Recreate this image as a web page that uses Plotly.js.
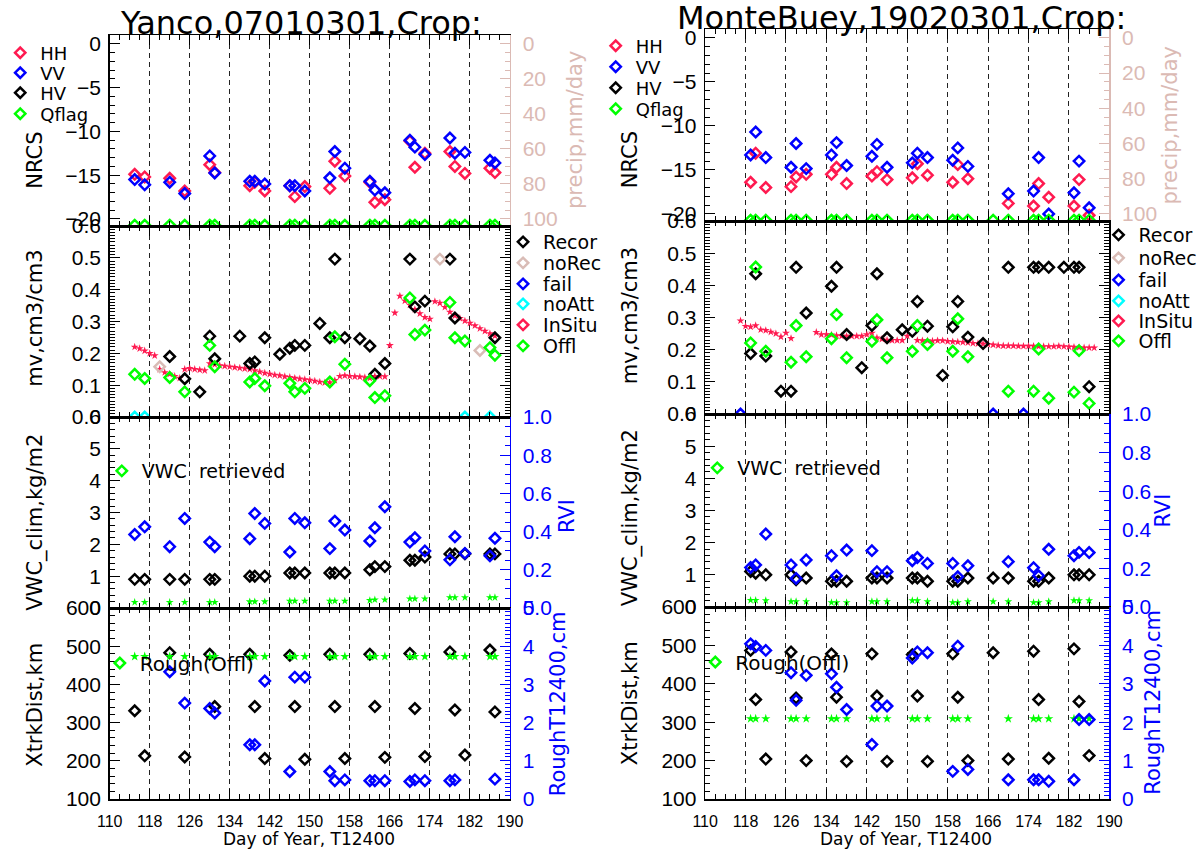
<!DOCTYPE html>
<html><head><meta charset="utf-8">
<script src="https://cdn.plot.ly/plotly-3.0.1.min.js"></script>
<style>html,body{margin:0;padding:0;background:#fff}#chart{width:1204px;height:853px}</style>
</head><body><div id="chart"></div>
<script>
// ---------------- LEFT COLUMN: Yanco ----------------
const daysL = [115,117,122,125,130,131,138,139,141,146,147,149,154,155,157,162,163,165,170,171,173,178,179,181,186,187];
const hhL = [-14.9,-15.2,-15.35,-16.8,-13.8,-14.7,-16.2,-15.8,-16.8,-16.2,-17.45,-16.3,-16.5,-13.4,-15.1,-15.8,-18.1,-17.8,-11.1,-14.1,-12.5,-12.3,-14.0,-14.8,-14.2,-14.7];
const vvL = [-15.5,-16.1,-15.8,-17.1,-12.8,-14.75,-15.7,-15.7,-16.0,-16.2,-16.2,-16.8,-15.3,-12.3,-14.2,-15.7,-16.7,-17.0,-11.0,-11.8,-12.65,-10.75,-12.5,-12.4,-13.3,-13.6];
const hvL = [];
const qflagL = [-20.7,-20.7,-20.7,-20.7,-20.7,-20.7,-20.7,-20.7,-20.7,-20.7,-20.7,-20.7,-20.7,-20.7,-20.7,-20.7,-20.7,-20.7,-20.7,-20.7,-20.7,-20.7,-20.7,-20.7,-20.7,-20.7];
const reconDaysL = [122,125,128,130,131,136,138,139,141,144,146,147,149,152,154,155,157,160,162,163,165,170,171,173,178,179,187];
const reconL = [0.19,0.12,0.079,0.254,0.183,0.254,0.168,0.173,0.249,0.197,0.216,0.225,0.225,0.294,0.249,0.496,0.249,0.246,0.223,0.134,0.168,0.496,0.346,0.364,0.496,0.311,0.249];
const noRecDaysL = [120,176,184];
const noRecL = [0.158,0.496,0.209];
const failDaysL = [];
const failL = [];
const noAttDaysL = [115,117,181,186];
const noAttL = [0,0,0,0];
const offlL = [0.134,0.121,0.124,0.079,0.225,0.158,0.110,0.121,0.098,0.106,0.079,0.090,0.110,0.252,0.166,0.114,0.061,0.067,0.374,0.259,0.273,0.360,0.249,0.239,0.218,0.194];
const insituDaysL = [115,116,117,118,119,120,121,122,123,124,125,126,127,128,129,130,131,132,133,134,135,136,137,138,139,140,141,142,143,144,145,146,147,148,149,150,151,152,153,154,155,156,157,158,159,160,161,162,163,164,165,166,167,168,169,170,171,172,173,174,175,176,177,178,179,180,181,182,183,184,185,186,187];
const insituL = [0.220,0.215,0.208,0.200,0.193,0.150,0.140,0.135,0.128,0.122,0.150,0.153,0.150,0.148,0.146,0.168,0.165,0.162,0.160,0.158,0.156,0.154,0.152,0.150,0.146,0.142,0.138,0.135,0.132,0.130,0.127,0.125,0.122,0.120,0.118,0.116,0.113,0.110,0.108,0.108,0.115,0.128,0.130,0.128,0.127,0.126,0.124,0.122,0.128,0.128,0.127,0.225,0.327,0.380,0.365,0.352,0.338,0.325,0.313,0.308,0.363,0.358,0.345,0.330,0.318,0.310,0.302,0.295,0.287,0.278,0.270,0.262,0.255];
const vwcClimL = [0.9,0.9,0.9,0.9,0.9,0.9,1.0,1.0,1.0,1.1,1.1,1.1,1.1,1.1,1.1,1.2,1.3,1.3,1.5,1.5,1.6,1.7,1.7,1.7,1.7,1.7];
const rviL = [0.385,0.425,0.321,0.469,0.345,0.321,0.363,0.495,0.443,0.293,0.469,0.446,0.311,0.455,0.408,0.351,0.420,0.530,0.345,0.368,0.299,0.252,0.373,0.286,0.273,0.365];
const vwcRetL = [0.18,0.18,0.18,0.18,0.18,0.18,0.2,0.2,0.2,0.22,0.22,0.22,0.22,0.22,0.22,0.24,0.26,0.26,0.29,0.29,0.29,0.33,0.33,0.33,0.33,0.33];
const xtrkL = [331,213,483,210,479,342,479,342,206,476,342,204,479,342,206,479,342,209,481,337,211,485,333,215,490,328];
const roughL = [null,null,3.33,2.51,2.37,2.25,1.42,1.42,3.09,0.72,3.19,3.19,0.72,0.48,0.50,0.48,0.48,0.48,0.46,0.50,0.48,0.48,0.50,null,null,0.52];
const roughOfflL = [3.73,3.73,3.73,3.73,3.73,3.73,3.73,3.73,3.73,3.73,3.73,3.73,3.73,3.73,3.73,3.73,3.73,3.73,3.73,3.73,3.73,3.73,3.73,3.73,3.73,3.73];

// ---------------- RIGHT COLUMN: MonteBuey ----------------
const daysR = [119,120,122,127,128,130,135,136,138,143,144,146,151,152,154,159,160,162,167,170,175,176,178,183,184,186];
const hhR = [-16.4,-13.1,-17.0,-16.9,-15.8,-15.5,-15.5,-14.7,-16.55,-15.7,-15.2,-16.1,-15.9,-14.3,-15.6,-16.4,-14.4,-16.0,null,-18.8,-19.1,-16.55,-18.1,-19.1,-16.1,-20.15];
const vvR = [-13.3,-10.7,-13.6,-14.7,-12.0,-14.85,-13.3,-11.9,-14.5,-13.45,-12.1,-14.7,-14.2,-13.1,-13.6,-13.9,-12.5,-14.6,null,-17.7,-17.4,-13.6,-20.0,-17.6,-14.0,-19.3];
const hvR = [];
const qflagR = [-20.7,-20.7,-20.7,-20.7,-20.7,-20.7,-20.7,-20.7,-20.7,-20.7,-20.7,-20.7,-20.7,-20.7,-20.7,-20.7,-20.7,-20.7,-20.7,-20.7,-20.7,-20.7,-20.7,-20.7,-20.7,-20.7];
const reconDaysR = [119,120,122,125,127,128,130,135,136,138,141,143,144,146,149,151,152,154,157,159,160,162,165,170,175,176,178,181,183,184,186];
const reconR = [0.188,0.436,0.18,0.071,0.071,0.456,0.314,0.397,0.456,0.247,0.144,0.275,0.436,0.237,0.262,0.257,0.35,0.273,0.12,0.271,0.35,0.239,0.219,0.456,0.456,0.456,0.456,0.456,0.456,0.456,0.085];
const noRecDaysR = [];
const noRecR = [];
const failDaysR = [117,167,173];
const failR = [0,0,0];
const noAttDaysR = [];
const noAttR = [];
const offlR = [0.221,0.457,0.195,0.161,0.275,0.178,0.234,0.309,0.175,0.226,0.293,0.175,0.195,0.275,0.216,0.195,0.296,0.178,null,0.071,0.071,0.202,0.049,0.068,0.197,0.033];
const insituDaysR = [117,118,119,120,121,122,123,124,125,126,127,128,129,130,131,132,133,134,135,136,137,138,139,140,141,142,143,144,145,146,147,148,149,150,151,152,153,154,155,156,157,158,159,160,161,162,163,164,165,166,167,168,169,170,171,172,173,174,175,176,177,178,179,180,181,182,183,184,185,186,187];
const insituR = [0.290,0.273,0.271,0.275,0.262,0.260,0.255,0.250,0.240,0.252,0.235,null,null,null,null,0.254,0.247,0.247,0.246,0.244,0.242,0.242,0.242,0.242,0.242,0.247,0.252,0.237,0.233,0.230,0.229,0.229,0.229,0.242,null,0.229,0.228,0.228,0.227,0.228,0.228,0.226,0.225,0.224,0.223,0.222,0.220,0.219,0.218,0.216,0.215,0.213,0.212,0.212,0.212,0.211,0.211,0.211,0.211,0.210,0.210,0.210,0.210,0.211,0.210,0.209,0.208,0.207,0.206,0.206,0.206];
const vwcClimR = [1.1,1.05,1.0,1.0,0.85,0.9,0.8,0.8,0.8,0.9,0.9,0.9,0.9,0.9,0.8,0.8,0.8,0.9,0.9,0.9,0.8,0.8,0.9,1.0,1.0,1.0];
const rviR = [0.205,0.218,0.378,0.218,0.148,0.244,0.266,0.162,0.295,0.292,0.183,0.183,0.24,0.256,0.226,0.226,0.157,0.214,null,0.235,0.204,0.162,0.299,0.266,0.283,0.282];
const vwcRetR = [0.21,0.21,0.2,0.17,0.17,0.17,0.14,0.14,0.14,0.17,0.17,0.17,0.2,0.2,0.17,0.14,0.14,0.17,0.17,0.17,0.14,0.14,0.17,0.2,0.2,0.2];
const xtrkR = [487,359,204,483,363,200,478,365,198,478,368,198,476,368,198,478,365,200,481,204,485,359,206,491,354,213];
const roughR = [4.04,3.97,3.87,3.29,2.57,3.22,3.26,2.91,2.33,1.42,2.42,2.42,3.67,3.83,3.81,0.72,3.98,0.77,null,0.50,0.50,0.50,0.46,0.50,2.07,2.07];
const roughOfflR = [2.09,2.09,2.09,2.09,2.09,2.09,2.09,2.09,2.09,2.09,2.09,2.09,2.09,2.09,2.09,2.09,2.09,2.09,null,2.09,2.09,2.09,2.09,2.09,2.09,2.09];

// ---------------- text ----------------
const titles = ['Yanco,07010301,Crop:', 'MonteBuey,19020301,Crop:'];
const yTitles = ['NRCS', 'mv,cm3/cm3', 'VWC_clim,kg/m2', 'XtrkDist,km'];
const y2Titles = {0:'precip,mm/day', 2:'RVI', 3:'RoughT12400,cm'};
const xTitle = 'Day of Year, T12400';
const names1 = ['HH','VV','HV','Qflag'];
const names2 = ['Recor','noRec','fail','noAtt','InSitu','Offl'];
const name3 = 'VWC  retrieved';
const name4 = 'Rough(Offl)';

// ---------------- styling / layout ----------------
const W = 1204, H = 853;
const LIB = 'Liberation Sans, Arial, sans-serif';
const DJV = 'DejaVu Sans, Liberation Sans, sans-serif';
const RED = '#ff1a50', BLUE = '#0000ff', GREEN = '#00ff00', CYAN = '#00ffff', ROSY = '#d9bcb6', PRECIP = '#dbbab4', BLACK = '#000000';

const cols = [
  {x0:94, x1:500, ys:[35,226,417,608,799], off:0, tY:23, tX:288,
   d:{days:daysL,hh:hhL,vv:vvL,hv:hvL,qflag:qflagL,reconD:reconDaysL,recon:reconL,noRecD:noRecDaysL,noRec:noRecL,failD:failDaysL,fail:failL,noAttD:noAttDaysL,noAtt:noAttL,offl:offlL,insD:insituDaysL,ins:insituL,vwc:vwcClimL,rvi:rviL,vwcRet:vwcRetL,xtrk:xtrkL,rough:roughL,roughOffl:roughOfflL},
   leg1:[53,73,93,114], leg2:[242,263,284,304,325,346], leg3:471, leg4:663,
   yt:[160,318,522,705], y2t:{0:[566,130],2:[558,516],3:[549,704]}},
  {x0:698, x1:1108, ys:[29,221,414,607,799], off:604, tY:18, tX:897,
   d:{days:daysR,hh:hhR,vv:vvR,hv:hvR,qflag:qflagR,reconD:reconDaysR,recon:reconR,noRecD:noRecDaysR,noRec:noRecR,failD:failDaysR,fail:failR,noAttD:noAttDaysR,noAtt:noAttR,offl:offlR,insD:insituDaysR,ins:insituR,vwc:vwcClimR,rvi:rviR,vwcRet:vwcRetR,xtrk:xtrkR,rough:roughR,roughOffl:roughOfflR},
   leg1:[46,67,88,109], leg2:[235,258,280,301,321,341], leg3:468, leg4:662,
   yt:[160,316,518,703], y2t:{0:[1170,125],2:[1162,511],3:[1152,702]}}
];

const ySpec = [
  {range:[-20.8,1], dtick:5, minor:1, fmt:''},
  {range:[0,0.6], dtick:0.1, minor:0.01, fmt:'.1f'},
  {range:[0,6], dtick:1, minor:0.2, fmt:''},
  {range:[100,600], dtick:100, minor:20, fmt:''}
];
const secSpec = {
  0:{range:[104,-5], dtick:20, minor:5, color:PRECIP, fmt:''},
  2:{range:[0,1], dtick:0.2, minor:0.05, color:BLUE, fmt:'.1f'},
  3:{range:[0,5], dtick:1, minor:0.1, color:BLUE, fmt:''}
};

const layout = {
  width:W, height:H, margin:{l:0,r:0,t:0,b:0},
  paper_bgcolor:'#ffffff', plot_bgcolor:'rgba(0,0,0,0)',
  font:{family:LIB, color:BLACK}, showlegend:true, annotations:[]
};
const traces = [];
function aid(n){ return n === 1 ? '' : String(n); }
let legCount = 0;
function newLegend(symX, yPx, size){
  legCount++;
  const key = legCount === 1 ? 'legend' : 'legend' + legCount;
  layout[key] = {x:(symX-28)/W, y:1-yPx/H, xanchor:'left', yanchor:'middle', bgcolor:'rgba(0,0,0,0)',
    borderwidth:0, font:{family:DJV, size:size, color:BLACK}, itemclick:false, itemdoubleclick:false, valign:'middle'};
  return key;
}
function orNull(a){ return a.length ? a : [null]; }
function diamond(color){ return {symbol:'diamond-open', size:8, color:color, line:{width:2.5, color:color}}; }
function star(color, sz){ return {symbol:'star', size:sz, color:color, line:{width:0}}; }
function ann(text, xPx, yPx, opts){
  layout.annotations.push(Object.assign({text:text, x:xPx/W, y:1-yPx/H, xref:'paper', yref:'paper', showarrow:false,
    xanchor:'center', yanchor:'middle', font:{family:DJV, size:21, color:BLACK}}, opts||{}));
}

cols.forEach((C, c) => {
  const ids = [];
  for (let p = 0; p < 4; p++) {
    const n = c*4 + p + 1, id = aid(n);
    ids.push(id);
    const yd = [1 - C.ys[p+1]/H, 1 - C.ys[p]/H];
    layout['xaxis'+id] = {
      domain:[C.x0/W, C.x1/W], anchor:'y'+id, range:[110,190], tick0:110, dtick:8,
      ticks:'inside', ticklen:10, tickwidth:1, tickcolor:BLACK, mirror:'ticks',
      showline:true, linecolor:BLACK, linewidth:1.5,
      showgrid:true, gridcolor:'#222', gridwidth:1, griddash:'5px,4px', zeroline:false,
      showticklabels:p===3, tickfont:{family:LIB, size:16, color:BLACK}, ticklabelstandoff:7,
      minor:{tick0:110, dtick:2, ticks:'inside', ticklen:5, tickwidth:1, tickcolor:BLACK, showgrid:false},
      fixedrange:true
    };
    const s = ySpec[p];
    layout['yaxis'+id] = {
      domain:yd, anchor:'x'+id, range:s.range, tick0:0, dtick:s.dtick, tickformat:s.fmt,
      ticks:'inside', ticklen:10, tickwidth:1, tickcolor:BLACK, mirror:p===1 ? 'ticks' : false,
      showline:true, linecolor:BLACK, linewidth:1.5, showgrid:false, zeroline:false,
      tickfont:{family:LIB, size:21, color:BLACK}, ticklabelstandoff:3,
      minor:{tick0:0, dtick:s.minor, ticks:'inside', ticklen:5, tickwidth:1, tickcolor:BLACK, showgrid:false},
      fixedrange:true
    };
    ann(yTitles[p], 18 + C.off, C.yt[p], {textangle:-90});
  }
  // secondary axes
  const secIds = {};
  [0,2,3].forEach((p, k) => {
    const n2 = 9 + c*3 + k, id2 = String(n2);
    secIds[p] = id2;
    const s = secSpec[p];
    layout['yaxis'+id2] = {
      overlaying:'y'+ids[p], anchor:'x'+ids[p], side:'right', range:s.range, tick0:0, dtick:s.dtick, tickformat:s.fmt,
      ticks:'inside', ticklen:10, tickwidth:1, tickcolor:s.color, showline:true, linecolor:s.color, linewidth:1.5,
      showgrid:false, zeroline:false, tickfont:{family:LIB, size:21, color:s.color}, ticklabelstandoff:7,
      minor:{tick0:0, dtick:s.minor, ticks:'inside', ticklen:5, tickwidth:1, tickcolor:s.color, showgrid:false},
      fixedrange:true
    };
    ann(y2Titles[p], C.y2t[p][0], C.y2t[p][1], {textangle:-90, font:{family:DJV, size:21, color:s.color}});
  });
  // titles
  ann(titles[c], C.tX, C.tY, {font:{family:DJV, size:32, color:BLACK}});
  ann(xTitle, (C.x0+C.x1)/2 - 1, 839, {font:{family:DJV, size:17, color:BLACK}});

  const D = C.d;
  const ax = (p) => ({xaxis:'x'+ids[p], yaxis:'y'+ids[p]});
  const ax2 = (p) => ({xaxis:'x'+ids[p], yaxis:'y'+secIds[p]});
  const legX1 = 11 + C.off, legX2 = 521 + C.off, legX3 = 114 + C.off;

  // precip axis placeholder (no precipitation values drawn)
  traces.push(Object.assign({type:'scatter', mode:'markers', x:[null], y:[null], showlegend:false, hoverinfo:'skip'}, ax2(0)));

  // Panel 1: NRCS
  const p1 = [[D.hh, RED], [D.vv, BLUE], [D.hv, BLACK], [D.qflag, GREEN]];
  p1.forEach((e, i) => {
    traces.push(Object.assign({type:'scatter', mode:'markers', name:names1[i],
      x: e[0].length ? D.days : [null], y: orNull(e[0]), marker:diamond(e[1]),
      legend:newLegend(legX1, C.leg1[i], 18)}, ax(0)));
  });

  // Panel 2: soil moisture
  traces.push(Object.assign({type:'scatter', mode:'markers', x:D.insD, y:D.ins, marker:star(RED, 6), showlegend:false}, ax(1)));
  const p2 = [[D.reconD, D.recon, BLACK], [D.noRecD, D.noRec, ROSY], [D.failD, D.fail, BLUE], [D.noAttD, D.noAtt, CYAN], [[], [], RED], [D.days, D.offl, GREEN]];
  p2.forEach((e, i) => {
    traces.push(Object.assign({type:'scatter', mode:'markers', name:names2[i],
      x: orNull(e[0]), y: orNull(e[1]), marker:diamond(e[2]),
      legend:newLegend(legX2, C.leg2[i], 19)}, ax(1)));
  });

  // Panel 3: VWC / RVI
  traces.push(Object.assign({type:'scatter', mode:'markers', x:D.days, y:D.vwc, marker:diamond(BLACK), showlegend:false}, ax(2)));
  traces.push(Object.assign({type:'scatter', mode:'markers', x:D.days, y:D.vwcRet, marker:star(GREEN, 6), showlegend:false}, ax(2)));
  traces.push(Object.assign({type:'scatter', mode:'markers', x:D.days, y:D.rvi, marker:diamond(BLUE), showlegend:false}, ax2(2)));
  traces.push(Object.assign({type:'scatter', mode:'markers', name:name3, x:[null], y:[null], marker:diamond(GREEN),
    legend:newLegend(legX3, C.leg3, 19)}, ax(2)));

  // Panel 4: Xtrk / roughness
  traces.push(Object.assign({type:'scatter', mode:'markers', x:D.days, y:D.xtrk, marker:diamond(BLACK), showlegend:false}, ax(3)));
  traces.push(Object.assign({type:'scatter', mode:'markers', x:D.days, y:D.roughOffl, marker:star(GREEN, 7), showlegend:false}, ax2(3)));
  traces.push(Object.assign({type:'scatter', mode:'markers', x:D.days, y:D.rough, marker:diamond(BLUE), showlegend:false}, ax2(3)));
  traces.push(Object.assign({type:'scatter', mode:'markers', name:name4, x:[null], y:[null], marker:diamond(GREEN),
    legend:newLegend(legX3 - 2, C.leg4, 20)}, ax(3)));
});

Plotly.newPlot('chart', traces, layout, {displayModeBar:false, staticPlot:true});
</script></body></html>
